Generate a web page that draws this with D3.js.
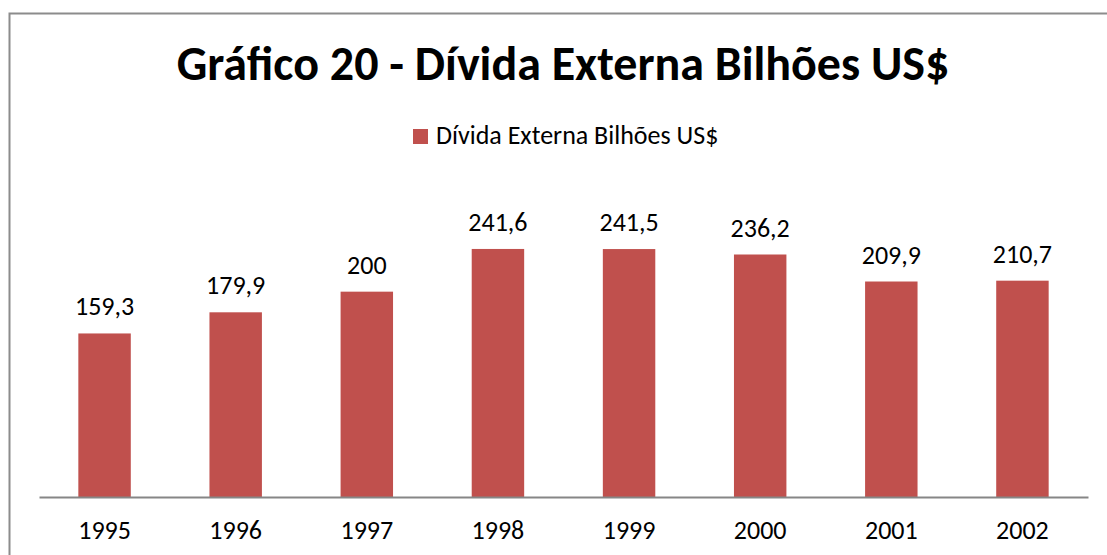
<!DOCTYPE html>
<html>
<head>
<meta charset="utf-8">
<script src="https://cdn.jsdelivr.net/npm/d3@7"></script>
<style>
  html, body { margin: 0; padding: 0; background: #fff; }
  svg { display: block; font-family: Carlito, Calibri, Lato, sans-serif; }
</style>
</head>
<body>
<div id="chart"></div>
<script>
const years = ['1995', '1996', '1997', '1998', '1999', '2000', '2001', '2002'];
const debt = [159.3, 179.9, 200, 241.6, 241.5, 236.2, 209.9, 210.7];
const seriesName = 'Dívida Externa Bilhões US$';
const chartTitle = 'Gráfico 20 - Dívida Externa Bilhões US$';

const totalWidth = 1107;
const totalHeight = 555;
const margin = { top: 189, right: 19, bottom: 58, left: 39 };
const width  = totalWidth - margin.left - margin.right;
const height = totalHeight - margin.top - margin.bottom;
const barColor = '#C0504D';

const svg = d3.select('#chart')
    .append('svg')
    .attr('width', totalWidth)
    .attr('height', totalHeight);

// chart frame (right and bottom edges fall outside the picture)
svg.append('rect')
    .attr('x', 9.5)
    .attr('y', 13.5)
    .attr('width', totalWidth + 20)
    .attr('height', totalHeight + 20)
    .attr('fill', 'none')
    .attr('stroke', '#8c8c8c')
    .attr('stroke-width', 2);

svg.append('text')
    .attr('x', 563)
    .attr('y', 80)
    .attr('text-anchor', 'middle')
    .style('font-size', '48px')
    .style('font-weight', 'bold')
    .text(chartTitle);

const legend = svg.append('g').attr('transform', 'translate(413,129)');
legend.append('rect')
    .attr('width', 15)
    .attr('height', 15)
    .attr('fill', barColor);
legend.append('text')
    .attr('x', 23)
    .attr('y', 15)
    .style('font-size', '26px')
    .text(seriesName);

const g = svg.append('g')
    .attr('transform', 'translate(' + margin.left + ',' + margin.top + ')');

const x = d3.scaleBand()
    .domain(years)
    .range([0, width])
    .paddingInner(0.6)
    .paddingOuter(0.3);

const y = d3.scaleLinear()
    .domain([0, 300])
    .range([height, 0]);

const data = years.map(function(yr, i) { return { year: yr, value: debt[i] }; });

g.selectAll('.bar')
    .data(data)
    .enter()
    .append('rect')
    .attr('class', 'bar')
    .attr('x', function(d) { return x(d.year); })
    .attr('y', function(d) { return y(d.value); })
    .attr('width', x.bandwidth())
    .attr('height', function(d) { return height - y(d.value); })
    .attr('fill', barColor);

g.selectAll('.label')
    .data(data)
    .enter()
    .append('text')
    .attr('class', 'label')
    .attr('x', function(d) { return x(d.year) + x.bandwidth() / 2; })
    .attr('y', function(d) { return y(d.value) - 18; })
    .attr('text-anchor', 'middle')
    .style('font-size', '26px')
    .text(function(d) { return String(d.value).replace('.', ','); });

const xAxis = g.append('g')
    .attr('transform', 'translate(0,' + height + ')')
    .call(d3.axisBottom(x).tickSize(0).tickPadding(24));
xAxis.select('.domain')
    .attr('stroke', '#868686')
    .attr('stroke-width', 2);
xAxis.selectAll('text')
    .attr('fill', '#000')
    .style('font-family', 'Carlito, Calibri, Lato, sans-serif')
    .style('font-size', '26px');
</script>
</body>
</html>
